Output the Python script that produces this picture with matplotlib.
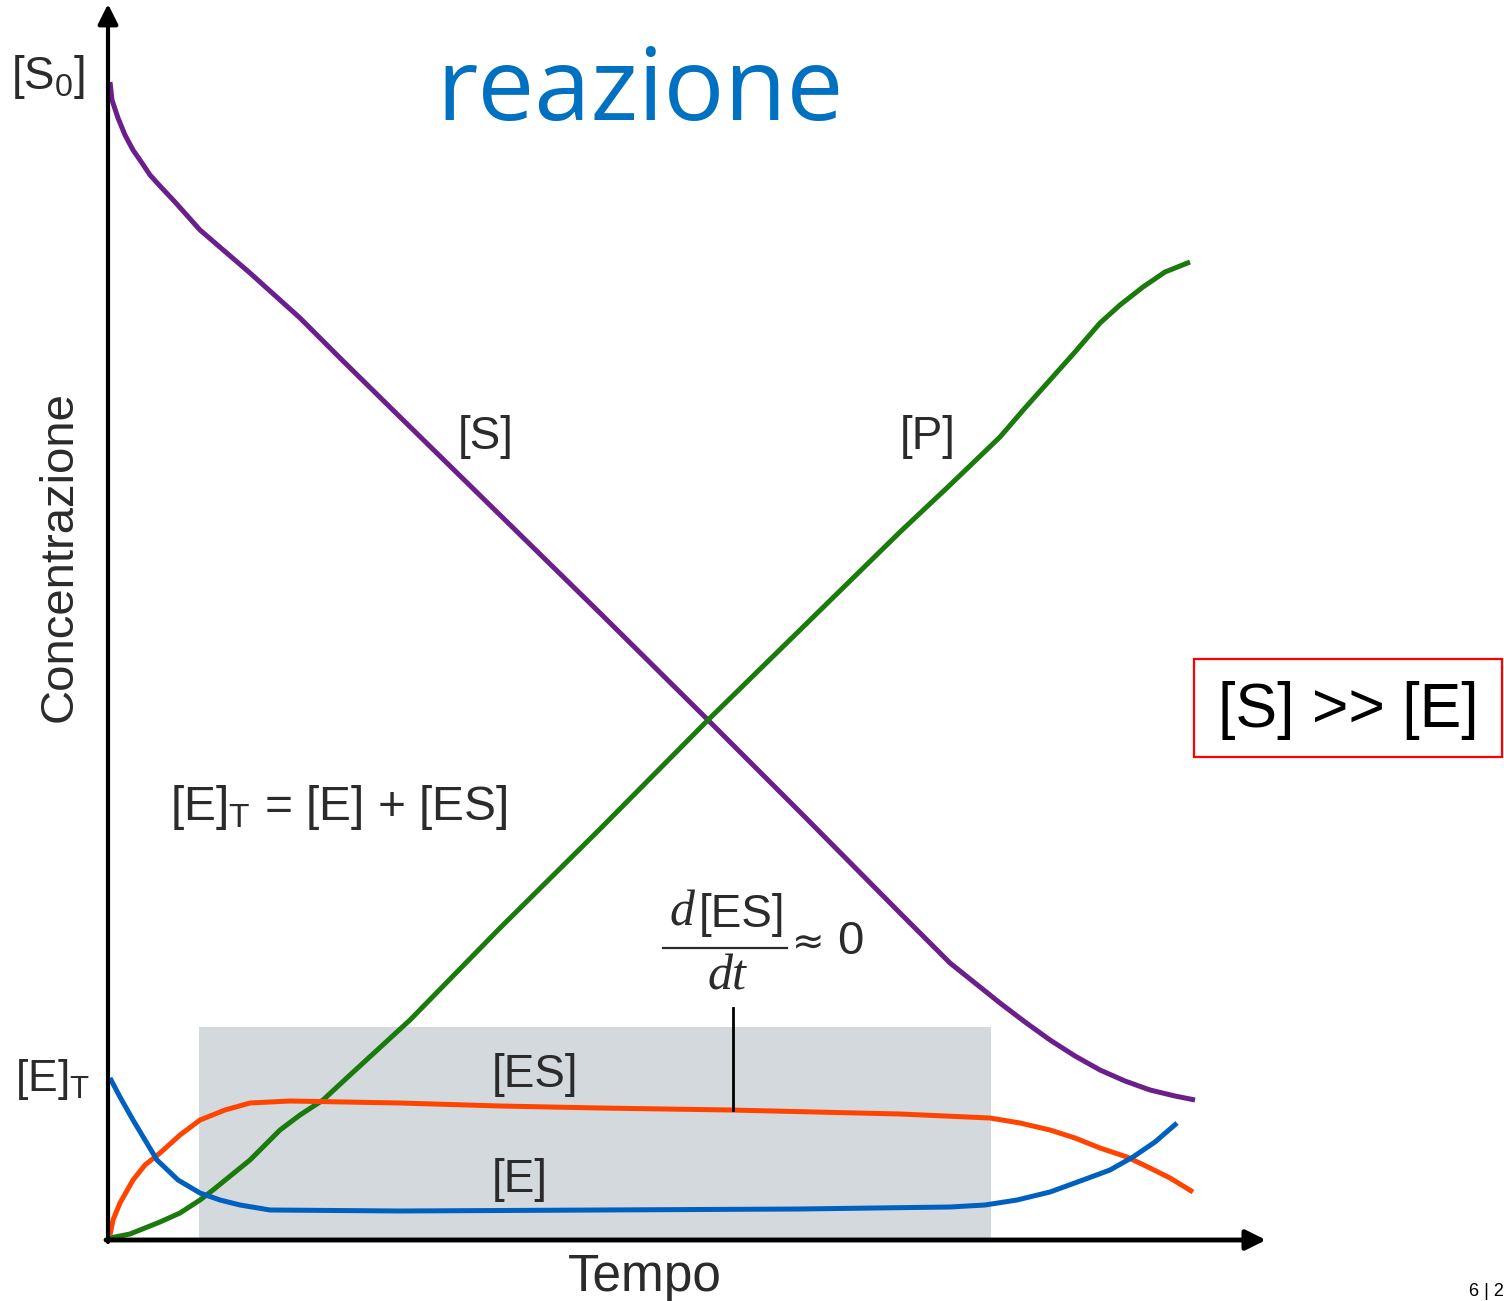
import matplotlib
matplotlib.use("Agg")
import matplotlib.pyplot as plt
from matplotlib.patches import Rectangle

# ---- data (time / concentration in arbitrary units) ----
s_t = [2, 4, 10, 17, 25, 34, 42, 52, 67, 92, 142, 192, 232, 292, 392, 492, 600, 692, 792,
       842, 892, 917, 942, 967, 992, 1017, 1042, 1067, 1087]
s_c = [1158, 1140, 1122, 1105, 1090, 1077, 1065, 1054, 1038, 1010, 967, 922, 882, 823, 725,
       627, 520, 428, 327, 277, 237, 218, 200, 184, 170, 159, 150, 144, 140]

p_t = [2, 22, 52, 72, 92, 105, 142, 172, 192, 215, 242, 302, 392, 492, 600, 692, 792, 842,
       892, 917, 942, 967, 992, 1012, 1035, 1057, 1082]
p_c = [2, 6, 18, 27, 40, 50, 80, 110, 125, 140, 165, 220, 312, 411, 520, 610, 708, 755,
       803, 832, 860, 888, 917, 935, 953, 968, 978]

es_t = [2, 5, 12, 25, 37, 52, 72, 92, 117, 142, 182, 292, 392, 492, 622, 792, 882, 912,
        942, 967, 992, 1019, 1042, 1062, 1085]
es_c = [5, 20, 37, 60, 75, 87, 105, 120, 130, 137, 139, 137, 134, 132, 130, 126, 122, 117,
        110, 102, 92, 83, 72, 62, 48]

e_t = [2, 12, 25, 37, 49, 70, 92, 112, 132, 162, 292, 492, 692, 842, 877, 909, 942, 975,
       1002, 1025, 1047, 1069]
e_c = [162, 143, 120, 100, 80, 60, 47, 40, 35, 30, 29, 30, 31, 33, 35, 40, 48, 60, 70, 83,
       98, 117]

steady_t = [91, 883]        # steady-state window (shaded)
steady_top = 213

labels_curves = ["[S]", "[P]", "[ES]", "[E]"]

# ---- fonts ----
plt.rcParams['font.family'] = ['Liberation Sans', 'DejaVu Sans']
plt.rcParams['mathtext.fontset'] = 'custom'
plt.rcParams['mathtext.rm'] = 'Liberation Sans'
plt.rcParams['mathtext.it'] = 'Liberation Sans:italic'

W, H = 1504, 1301
fig = plt.figure(figsize=(W / 100, H / 100), dpi=100)
ax = fig.add_axes([0, 0, 1, 1])
ax.set_xlim(-108, W - 108)
ax.set_ylim(1240 - H, 1240)
ax.axis('off')

TXT = '#2b2b2b'

# shaded steady-state region
ax.add_patch(Rectangle((steady_t[0], 0), steady_t[1] - steady_t[0], steady_top,
                       facecolor='#d3d9dd', edgecolor='none', zorder=1))

lw = 3.6
kw = dict(lw=lw, solid_capstyle='butt', solid_joinstyle='round', zorder=3)
ax.plot(s_t, s_c, color='#6b1f8c', **kw)
ax.plot(p_t, p_c, color='#1a7a0c', **kw)
ax.plot(es_t, es_c, color='#ff4400', **kw)
ax.plot(e_t, e_c, color='#0060c0', **kw)

# axes with arrows
ax.annotate('', xy=(0, 1236), xytext=(0, -2),
            arrowprops=dict(arrowstyle='-|>', lw=3, color='black', mutation_scale=30,
                            shrinkA=0, shrinkB=0), zorder=5)
ax.annotate('', xy=(1158, 0), xytext=(-2, 0),
            arrowprops=dict(arrowstyle='-|>', lw=3.5, color='black', mutation_scale=30,
                            shrinkA=0, shrinkB=0), zorder=5)

# title
ax.text(532, 1146, 'reazione', color='#0070c0', fontsize=73, family=['Open Sans', 'DejaVu Sans'],
        ha='center', va='center')

fs = 33
ax.text(-60, 1163, r'[S$_\mathrm{0}$]', fontsize=33, color=TXT, ha='center', va='center')
ax.text(378, 803, labels_curves[0], fontsize=fs, color=TXT, ha='center', va='center')
ax.text(820, 803, labels_curves[1], fontsize=fs, color=TXT, ha='center', va='center')
ax.text(-48, 683, 'Concentrazione', fontsize=34, color=TXT, ha='center', va='center', rotation=90)
ax.text(62, 432, r'[E]$_\mathrm{T}$ = [E] + [ES]', fontsize=34.5, color=TXT, ha='left', va='center')
ax.text(-55, 160, r'[E]$_\mathrm{T}$', fontsize=32, color=TXT, ha='center', va='center')
ax.text(427, 165, labels_curves[2], fontsize=fs, color=TXT, ha='center', va='center', zorder=4)
ax.text(412, 60, labels_curves[3], fontsize=fs, color=TXT, ha='center', va='center', zorder=4)
ax.text(537, -37, 'Tempo', fontsize=37, color=TXT, ha='center', va='center')

# d[ES]/dt ≈ 0
ax.text(574, 327, 'd', fontsize=36, color=TXT, family='Liberation Serif', style='italic',
        ha='center', va='center')
ax.text(634, 325, '[ES]', fontsize=fs, color=TXT, ha='center', va='center')
ax.plot([555, 679], [292, 292], color=TXT, lw=1.6)
ax.text(619, 263, 'dt', fontsize=36, color=TXT, family='Liberation Serif', style='italic',
        ha='center', va='center')
ax.text(700, 298, '≈', fontsize=28, color=TXT, family='DejaVu Sans', ha='center', va='center')
ax.text(742, 298, '0', fontsize=34, color=TXT, ha='center', va='center')
ax.plot([625, 625], [232, 130], color='black', lw=2, zorder=4)

# boxed condition
ax.add_patch(Rectangle((1086, 483), 308, 98, facecolor='none', edgecolor='#ff0000', lw=1.6,
                       clip_on=False))
ax.text(1240, 530, '[S] >> [E]', fontsize=45, color='black', family='Liberation Sans',
        ha='center', va='center')

ax.text(1396, -52, '6 | 2', fontsize=13, color='black', family='Liberation Sans',
        ha='right', va='center')

fig.savefig('out.png', dpi=100)
